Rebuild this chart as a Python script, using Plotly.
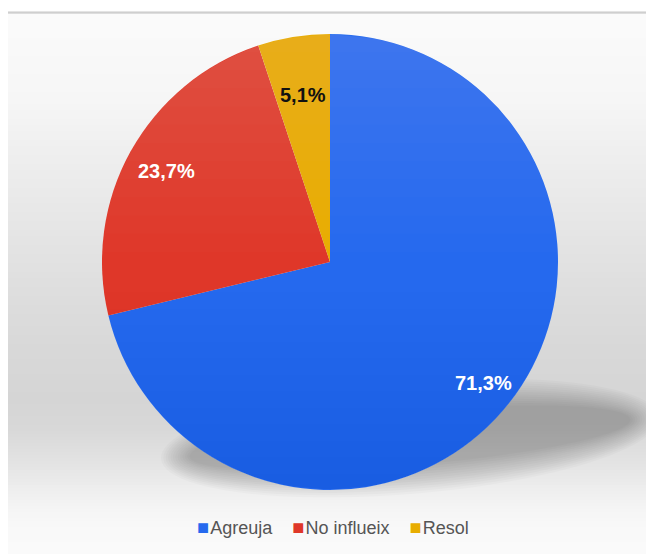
import math
import plotly.graph_objects as go

# ---- data ----
labels = ["Agreuja", "No influeix", "Resol"]
values = [71.3, 23.7, 5.1]
colors = ["#2569ee", "#df3729", "#e8ad00"]
text_colors = ["#ffffff", "#ffffff", "#111111"]
label_radius = [0.855, 0.82, 0.74]   # radial placement of the slice labels (style)

# page is offset by the 8px body margin, so the figure is 8px smaller
W, H = 646, 546
OFF = 8


def px(x):
    return (x - OFF) / W


def py(y):
    return 1 - (y - OFF) / H


shapes = []

# top separator line
for y, c in [(11, "#e4e4e4"), (12, "#cfcfcf"), (13, "#dddddd")]:
    shapes.append(dict(type="rect", xref="paper", yref="paper", layer="below",
                       x0=0, x1=1, y0=py(y + 1), y1=py(y),
                       fillcolor=c, line=dict(width=0)))

# background gradient panel
stops = [(14, 251), (28, 250), (100, 246), (150, 239), (200, 233), (250, 227),
         (300, 221), (350, 216), (400, 213), (430, 216), (460, 226), (490, 238),
         (510, 245), (530, 249), (554, 250)]


def gray_at(y):
    for (y0, g0), (y1, g1) in zip(stops[:-1], stops[1:]):
        if y0 <= y <= y1:
            t = (y - y0) / (y1 - y0)
            return g0 + (g1 - g0) * t
    return stops[-1][1]


step = 3
for y in range(14, 554, step):
    g = int(round(gray_at(y + step / 2)))
    shapes.append(dict(type="rect", xref="paper", yref="paper", layer="below",
                       x0=0, x1=1, y0=py(min(y + step, 554)), y1=py(y),
                       fillcolor=f"rgb({g},{g},{g})", line=dict(width=0)))

# soft shadow (stacked tilted ellipses)
cx, cy, ang = 410, 438, math.radians(-4.8)
a0, b0 = 250, 56
for k in range(13):
    d = k * 2.4
    a, b = a0 - d, b0 - d
    pts = []
    for i in range(97):
        t = 2 * math.pi * i / 96
        ex, ey = a * math.cos(t), b * math.sin(t)
        X = cx + ex * math.cos(ang) - ey * math.sin(ang)
        Y = cy + ex * math.sin(ang) + ey * math.cos(ang)
        pts.append(f"{px(X):.5f},{py(Y):.5f}")
    path = "M" + " L".join(pts) + " Z"
    shapes.append(dict(type="path", xref="paper", yref="paper", layer="below",
                       path=path, fillcolor="rgba(0,0,0,0.021)",
                       line=dict(width=0)))

pcx, pcy, r = 330, 262, 228


def disc_part(ya, yb):
    """polygon of the pie disc between page rows ya < yb"""
    n = 40
    right, left = [], []
    for i in range(n + 1):
        y = ya + (yb - ya) * i / n
        dy = y - pcy
        hw = math.sqrt(max(r * r - dy * dy, 0))
        right.append((pcx + hw, y))
        left.append((pcx - hw, y))
    pts = right + left[::-1]
    return "M" + " L".join(f"{px(x):.5f},{py(y):.5f}" for x, y in pts) + " Z"


# gentle vertical shading over the pie (lighter top, darker bottom)
nl = 12
for k in range(nl):
    yb = pcy - r + (r - 10) * (k + 1) / nl
    shapes.append(dict(type="path", xref="paper", yref="paper", layer="above",
                       path=disc_part(pcy - r, yb),
                       fillcolor="rgba(255,255,255,0.0105)", line=dict(width=0)))
for k in range(nl):
    ya = pcy + 30 + (r - 30) * k / nl
    shapes.append(dict(type="path", xref="paper", yref="paper", layer="above",
                       path=disc_part(ya, pcy + r),
                       fillcolor="rgba(0,0,0,0.0042)", line=dict(width=0)))

fig = go.Figure(go.Pie(
    labels=labels,
    values=values,
    sort=False,
    direction="clockwise",
    rotation=0,
    marker=dict(colors=colors, line=dict(width=0)),
    textinfo="none",
    hoverinfo="label+percent",
    showlegend=False,
    domain=dict(x=[px(pcx - r), px(pcx + r)], y=[py(pcy + r), py(pcy - r)]),
))

# slice labels placed along each slice's mid-angle
annotations = []
total = sum(values)
cum = 0
for lab, v, tc, rf in zip(labels, values, text_colors, label_radius):
    mid = (cum + v / 2) / total * 2 * math.pi
    cum += v
    X = pcx + rf * r * math.sin(mid)
    Y = pcy - rf * r * math.cos(mid)
    annotations.append(dict(
        x=px(X), y=py(Y), xref="paper", yref="paper", showarrow=False,
        text=f"{v:.1f}".replace(".", ",") + "%",
        font=dict(family="Liberation Sans, Arial, sans-serif", size=20,
                  color=tc, weight="bold"),
        xanchor="center", yanchor="middle"))

# legend row
items = []
for lab, c in zip(labels, colors):
    items.append(f"<span style='font-size:20px;color:{c}'>■</span>"
                 f"<span style='font-size:4px'> </span>{lab}")
legend_text = "&nbsp;&nbsp;&nbsp;&nbsp;".join(items)
annotations.append(dict(
    x=px(333), y=py(527), xref="paper", yref="paper", showarrow=False,
    text=legend_text, xanchor="center", yanchor="middle",
    font=dict(family="Liberation Sans, Arial, sans-serif", size=18,
              color="#555555")))

fig.update_layout(
    width=W, height=H,
    margin=dict(l=0, r=0, t=0, b=0),
    paper_bgcolor="#ffffff",
    separators=", ",
    shapes=shapes,
    annotations=annotations,
    showlegend=False,
)

fig.write_html("out.html")
